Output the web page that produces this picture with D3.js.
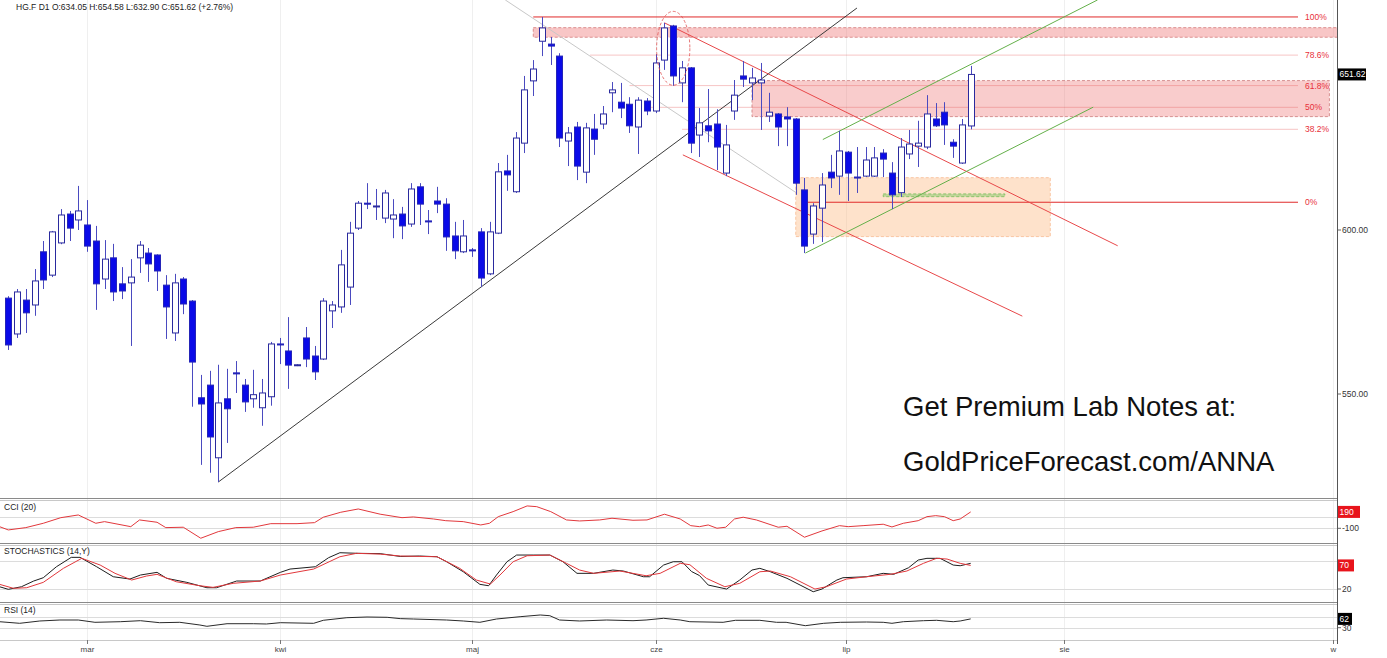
<!DOCTYPE html>
<html lang="pl">
<head>
  <meta charset="UTF-8" />
  <title>HG.F D1</title>
  <script src="https://cdn.jsdelivr.net/npm/d3@7"></script>
  <style>
    body { margin: 0; background: #fff; }
    svg { display: block; font-family: "Liberation Sans", Arial, sans-serif; }
    .wick { stroke: #4a4ac0; stroke-width: 1; }
    .up { fill: #fff; stroke: #2a2a9e; stroke-width: 1; }
    .down { fill: #0a0ae8; stroke: #2424b8; stroke-width: 1; }
    .sep1 { stroke: #8a8a8a; }
    .sep2 { stroke: #c8c8c8; }
    .lbl { font-size: 8.5px; fill: #333; }
    .fib { font-size: 8.5px; fill: #e8303a; }
  </style>
</head>
<body>
  <svg id="chart" width="1387" height="658"></svg>
  <script>
    // daily candles: [open, high, low, close]
    const candles = [
      [578.7, 579.3, 563.0, 564.5], [567.8, 581.5, 566.6, 580.6], [578.1, 581.5, 568.1, 574.2],
      [576.6, 587.7, 573.3, 584.0], [593.1, 596.5, 581.5, 584.3], [585.8, 599.7, 585.2, 599.4],
      [595.9, 606.7, 595.5, 604.8], [605.1, 606.1, 596.5, 600.6], [603.2, 614.2, 600.0, 606.1],
      [601.6, 609.6, 593.1, 594.9], [596.5, 601.3, 575.1, 583.1], [584.6, 596.8, 581.5, 590.8],
      [591.2, 595.6, 577.8, 580.6], [583.1, 588.3, 578.4, 580.9], [583.4, 590.8, 564.2, 585.2],
      [591.2, 596.5, 586.5, 595.2], [592.7, 594.3, 583.7, 589.3], [592.1, 592.3, 580.9, 587.1],
      [582.7, 585.8, 566.3, 576.0], [568.1, 586.2, 565.7, 583.4], [584.6, 585.2, 573.8, 576.9],
      [577.8, 578.1, 546.3, 559.4], [548.9, 555.6, 529.7, 547.1], [552.6, 556.8, 527.5, 537.6],
      [531.7, 558.6, 524.9, 547.4], [548.6, 557.4, 535.9, 545.7], [556.2, 559.7, 550.3, 555.9],
      [552.6, 554.4, 544.8, 547.7], [548.6, 557.1, 546.0, 549.8], [546.0, 554.4, 540.8, 550.3],
      [549.2, 565.4, 546.6, 564.8], [564.8, 566.6, 558.8, 564.5], [562.7, 572.9, 551.5, 558.5],
      [558.5, 558.8, 558.2, 558.6], [566.6, 569.9, 557.9, 560.3], [561.2, 564.2, 554.1, 556.5],
      [560.3, 578.7, 560.0, 577.8], [574.8, 577.8, 569.6, 576.6], [576.0, 593.7, 574.2, 589.0],
      [582.1, 602.6, 576.6, 599.0], [600.6, 609.3, 600.0, 608.6], [608.6, 615.1, 606.7, 608.3],
      [607.4, 613.2, 603.2, 607.7], [603.8, 612.9, 602.2, 611.9], [603.5, 609.9, 597.4, 604.8],
      [605.1, 607.4, 597.1, 601.3], [601.9, 615.1, 601.0, 613.2], [613.9, 615.1, 601.6, 608.3],
      [602.9, 606.4, 598.7, 602.6], [609.3, 613.9, 605.4, 608.3], [608.3, 610.2, 593.4, 597.8],
      [598.1, 602.6, 590.8, 593.4], [593.1, 603.2, 592.7, 598.1], [593.7, 594.3, 591.5, 593.4],
      [599.4, 600.6, 582.1, 584.9], [586.2, 602.6, 585.8, 599.4], [599.0, 621.7, 598.7, 618.8],
      [619.1, 624.4, 612.6, 617.8], [612.3, 632.0, 611.9, 630.0], [628.3, 651.1, 625.0, 646.3],
      [649.4, 656.6, 644.2, 653.5], [663.2, 671.8, 658.0, 667.9], [662.2, 664.7, 654.9, 661.5],
      [658.0, 659.0, 627.0, 630.0], [629.0, 633.7, 620.7, 631.7], [633.7, 635.4, 616.1, 620.7],
      [618.7, 635.1, 615.1, 633.4], [633.0, 638.1, 624.4, 629.6], [634.7, 640.8, 633.0, 638.1],
      [645.3, 649.0, 638.7, 646.3], [642.1, 648.7, 636.7, 640.1], [641.4, 643.8, 631.7, 634.1],
      [633.7, 643.8, 624.7, 642.8], [642.5, 643.5, 637.7, 639.1], [639.1, 658.7, 638.4, 655.6],
      [656.6, 669.7, 653.2, 667.9], [668.6, 669.0, 647.7, 651.1], [648.7, 656.3, 642.1, 653.9],
      [653.9, 654.2, 625.0, 628.3], [631.0, 640.1, 623.7, 635.1], [634.1, 646.6, 628.6, 632.4],
      [634.7, 639.7, 619.4, 627.0], [618.4, 634.4, 617.4, 627.7], [639.1, 649.7, 636.1, 644.5],
      [651.1, 656.3, 647.3, 650.0], [648.7, 653.9, 642.8, 650.4], [648.7, 655.6, 632.7, 649.7],
      [637.4, 645.3, 635.4, 638.7], [638.1, 638.4, 627.3, 633.7], [637.1, 640.4, 627.3, 636.4],
      [636.4, 636.7, 611.3, 615.1], [612.9, 616.8, 592.7, 594.9], [598.7, 608.6, 595.6, 607.7],
      [607.0, 618.4, 596.2, 614.5], [618.7, 624.4, 613.5, 616.8], [617.4, 632.4, 611.3, 625.7],
      [625.3, 625.7, 609.3, 618.4], [617.1, 627.0, 611.9, 616.8], [617.4, 627.0, 617.1, 622.7],
      [617.4, 627.0, 617.1, 623.4], [625.0, 626.3, 617.1, 623.0], [618.4, 622.0, 606.7, 611.3],
      [612.0, 630.0, 610.6, 627.0], [624.7, 632.7, 623.0, 628.0], [627.3, 635.8, 620.4, 628.3],
      [627.0, 644.5, 626.3, 638.1], [636.4, 641.8, 633.7, 634.1], [638.7, 642.1, 627.7, 634.4],
      [628.6, 629.6, 623.4, 627.3], [621.7, 636.4, 621.4, 634.4], [634.05, 654.58, 632.90, 651.62]
    ];

    // month ticks (candle index where the month starts)
    const monthLabels = ["mar", "kwi", "maj", "cze", "lip", "sie", "w"];
    const monthAt = [9, 31, 53, 74, 95.7, 120.7, 151.4];
    const priceTicks = [550, 600];

    // indicators: [candle index, value]
    const cci = [[-1,-71],[0,-129],[2,-88],[4,-11],[6,88],[8,136],[10,-11],[11,18],[14,-71],[15,48],[17,7],[18,-88],
      [20,-81],[22,-276],[24,-159],[26,-88],[28,-81],[30,-18],[33,-18],[35,0],[36,96],[38,184],[40,242],[42.5,150],
      [45,88],[46.3,101],[48.6,65],[50,35],[52,18],[54,-41],[55,-11],[56,106],[57.7,195],[59.3,296],[60.4,283],
      [62,195],[63.8,48],[65.3,30],[67.6,48],[69,78],[71.4,42],[73,48],[75,149],[76.8,65],[78,-53],[79,-71],[80,-41],
      [81,-99],[82,-81],[83,65],[84,96],[85.5,48],[88,-81],[89,-64],[91,-258],[93,-147],[95,-53],[96,-71],[97.7,-53],
      [100,-28],[101,-76],[102.3,-11],[104,35],[105,106],[106,124],[107,106],[108,35],[108.8,65],[110,190]];
    const stochK = [[-1,24.8],[0,19.3],[1.5,24.8],[2.9,36.9],[4,43.9],[5.5,67.2],[7.2,87.1],[8.2,87.1],[10.1,67.2],
      [12,46],[13.9,41.1],[15.1,49.6],[17,55.3],[18.1,42.6],[20.4,34.1],[22.7,22.7],[23.8,22.7],[26.1,36.9],[28.8,36.9],
      [31.1,55.3],[32.2,62.3],[35.1,67.2],[36.6,86.3],[37.9,96.9],[40,95.6],[42.5,95],[44.8,89],[47,89.9],[49,88.4],
      [50.1,77.8],[52,56.6],[53.9,29.9],[54.9,26.9],[55.8,49.6],[57,77.8],[58.1,92],[60,92],[61.9,92],[63.4,77.8],
      [65,53.2],[66.9,53.2],[69.1,60.2],[70.3,58.1],[72.6,46],[73.3,46],[74.9,70.8],[76,77.8],[77,77.8],[78.1,57],
      [79,48.5],[80,28.4],[82.1,19.9],[83.6,39],[85,60.2],[85.9,63.8],[87.1,56.6],[89,42.6],[90.5,28.4],[92,14.2],
      [93,19.9],[94.7,39],[95.4,43.9],[98.1,46],[100,53.2],[101.2,51.1],[102.9,65.1],[104,81.4],[105,85],[106.5,85],
      [108,70.8],[108.8,69.3],[110,74.4]];
    const stochD = [[-1,29.9],[0.6,21.4],[2.1,22.7],[4,34.1],[6.3,63.8],[8.4,85],[10.5,70.8],[12.2,53.2],[14.1,39],
      [15.8,47.5],[17,51.1],[19.2,35.4],[21.9,26.9],[23.4,23.5],[25.7,32],[28.8,36.9],[31.1,49.6],[34.9,62.3],[37.9,88.4],
      [39.8,95.6],[42.5,94],[44.8,89.9],[49,88.4],[51.6,63.8],[53.5,39],[55.1,30.5],[56.2,49.6],[57.7,77.8],[59.3,90.5],
      [61.9,92],[63.8,74.4],[65.3,60.2],[66.9,53.2],[69.9,58.1],[72.9,48.1],[74.5,53.2],[76.8,74.4],[77.9,71.5],
      [79.8,42.6],[81.9,24.8],[83.6,32],[85.9,56.6],[87.1,58.1],[89.4,46],[92.2,19.9],[93.5,24.8],[95.8,41.1],[98.1,46],
      [100.8,51.1],[102.7,58.1],[104.6,74.4],[106.1,85],[107.3,83.5],[108.8,74.4],[110,70]];
    const rsi = [[-1,51.8],[1.3,46],[3.6,54.4],[5.9,58],[8,58],[9.9,49.6],[12.8,51.8],[15.1,55.5],[17.3,48.2],[19.6,49.6],
      [21.9,39.8],[22.7,35.1],[25,44.5],[28,44.5],[29.5,43.5],[31.1,48.2],[34.9,46],[36,56.9],[38.7,66.4],[41,68.9],
      [43.3,67.8],[44.8,63],[46.3,61.6],[50.1,58],[52,54.4],[53.9,49.6],[55.8,61.6],[58.5,70],[60.8,76.2],[61.9,73.6],
      [63,58],[65.3,54.4],[68.4,58],[71.4,55.5],[72.9,58],[74.9,64.2],[76.8,58],[77.9,51.8],[81.7,49.6],[83.1,56.9],
      [85.9,56.9],[87.8,49.6],[88.9,49.6],[91.1,37.3],[93.2,46],[95.1,49.6],[98.1,50.7],[100,49.6],[101,46],[102.3,51.8],
      [104.6,55.5],[106.1,56.9],[108,51.8],[108.8,54.4],[110,62]];

    // drawings: [candle index, price]
    const trendUp = [[24, 524.9], [97, 675.0]];
    const greyLine = [[56.8, 677.9], [90.1, 611.9]];
    const redUpper = [[75, 669.7], [126.8, 595.0]];
    const redLower = [[77.1, 624.4], [115.9, 573.2]];
    const greenUpper = [[93.1, 629.5], [124.5, 677.9]];
    const greenLower = [[91.1, 592.7], [124, 640.4]];
    const fibHigh = 671.8, fibLow = 608.9;
    const fibLevels = [1, 0.786, 0.618, 0.5, 0.382, 0];
    const fibNames = ["100%", "78.6%", "61.8%", "50%", "38.2%", "0%"];
    const fibStart = [60, 66.5, 71, 73, 77, 91];
    const topZone = { from: 60, to: 152, lo: 664.6, hi: 668.0 };
    const midZone = { from: 85, to: 151, lo: 637.2, hi: 649.5 };
    const orangeBox = { from: 90, to: 119.1, lo: 597.9, hi: 616.9 };
    const greenStrip = { from: 100, to: 113.9, lo: 610.7, hi: 611.6 };
    const circled = { from: 74.1, to: 77.9, lo: 647.9, hi: 673.8 };

    const header = "HG.F D1 O:634.05 H:654.58 L:632.90 C:651.62 (+2.76%)";

    const axisX = 1337;
    const svg = d3.select("#chart");
    const x = d3.scaleLinear().domain([0, 110]).range([8.3, 970.7]);
    const y = d3.scaleLog().domain([550, 600]).range([394, 230]);
    const yCci = d3.scaleLinear().domain([-100, 100]).range([528.3, 517]);
    const yStoch = d3.scaleLinear().domain([20, 80]).range([589, 560.7]);
    const yRsi = d3.scaleLinear().domain([30, 70]).range([627.7, 616.7]);

    const defs = svg.append("defs");
    const clip = (id, y0, y1) => defs.append("clipPath").attr("id", id)
      .append("rect").attr("x", 0).attr("y", y0).attr("width", axisX).attr("height", y1 - y0);
    clip("cMain", 0, 497); clip("cCci", 501, 543); clip("cSto", 546, 602); clip("cRsi", 605, 640);

    // vertical month grid
    svg.append("g").selectAll("line").data(monthAt).join("line")
      .attr("x1", d => Math.round(x(d)) + 0.5).attr("x2", d => Math.round(x(d)) + 0.5)
      .attr("y1", 0).attr("y2", 640).attr("stroke", "#efefef");

    const main = svg.append("g").attr("clip-path", "url(#cMain)");

    const zone = (z, fill, stroke) => main.append("rect")
      .attr("x", x(z.from)).attr("width", x(z.to) - x(z.from))
      .attr("y", y(z.hi)).attr("height", y(z.lo) - y(z.hi))
      .attr("fill", fill).attr("stroke", stroke).attr("stroke-dasharray", "3,2");
    zone(topZone, "rgba(238,120,120,0.42)", "rgba(200,90,90,0.6)");
    zone(midZone, "rgba(238,120,120,0.38)", "rgba(190,90,90,0.6)");
    zone(orangeBox, "rgba(252,190,140,0.45)", "rgba(245,170,120,0.6)");
    zone(greenStrip, "rgba(150,205,120,0.6)", "rgba(120,190,90,0.8)");

    // fibonacci lines
    fibLevels.forEach((lv, i) => {
      const p = fibLow + (fibHigh - fibLow) * lv;
      const strong = lv === 1 || lv === 0;
      main.append("line")
        .attr("x1", x(fibStart[i])).attr("x2", 1298)
        .attr("y1", y(p)).attr("y2", y(p))
        .attr("stroke", strong ? "#e02a2a" : "rgba(230,90,90,0.45)")
        .attr("stroke-width", strong ? 1 : 0.8);
      svg.append("text").attr("class", "fib")
        .attr("x", 1305).attr("y", y(p) + 3).text(fibNames[i]);
    });

    const seg = (pts, color, w) => main.append("line")
      .attr("x1", x(pts[0][0])).attr("y1", y(pts[0][1]))
      .attr("x2", x(pts[1][0])).attr("y2", y(pts[1][1]))
      .attr("stroke", color).attr("stroke-width", w);
    seg(greyLine, "#c8c8c8", 1);
    seg(trendUp, "#3a3a3a", 1);
    seg(redUpper, "#e8484a", 1);
    seg(redLower, "#e8484a", 1);
    seg(greenUpper, "#64b04a", 1);
    seg(greenLower, "#64b04a", 1);

    // candles
    const cg = main.append("g");
    cg.selectAll("line").data(candles).join("line").attr("class", "wick")
      .attr("x1", (d, i) => Math.round(x(i)) + 0.5).attr("x2", (d, i) => Math.round(x(i)) + 0.5)
      .attr("y1", d => y(d[1])).attr("y2", d => y(d[2]));
    cg.selectAll("rect").data(candles).join("rect")
      .attr("class", d => d[3] >= d[0] ? "up" : "down")
      .attr("x", (d, i) => Math.round(x(i)) - 2.5)
      .attr("width", 6)
      .attr("y", d => y(Math.max(d[0], d[3])))
      .attr("height", d => Math.max(1, y(Math.min(d[0], d[3])) - y(Math.max(d[0], d[3]))));

    main.append("ellipse")
      .attr("cx", (x(circled.from) + x(circled.to)) / 2)
      .attr("cy", (y(circled.hi) + y(circled.lo)) / 2)
      .attr("rx", (x(circled.to) - x(circled.from)) / 2)
      .attr("ry", (y(circled.lo) - y(circled.hi)) / 2)
      .attr("fill", "none").attr("stroke", "#e05050").attr("stroke-width", 0.8)
      .attr("stroke-dasharray", "3,2");

    svg.append("text").attr("x", 16).attr("y", 10).attr("font-size", 8.5).attr("fill", "#222")
      .text(header);

    svg.append("text").attr("x", 903).attr("y", 416).attr("font-size", 27.5).attr("fill", "#111")
      .text("Get Premium Lab Notes at:");
    svg.append("text").attr("x", 903).attr("y", 471).attr("font-size", 27.5).attr("fill", "#111")
      .text("GoldPriceForecast.com/ANNA");

    // indicator panels
    const ind = (clipId, yS, series, color) => svg.append("path")
      .attr("clip-path", `url(#${clipId})`)
      .attr("d", d3.line().x(d => x(d[0])).y(d => yS(d[1]))(series))
      .attr("fill", "none").attr("stroke", color).attr("stroke-width", 1);

    const hgrid = (vals, yS) => vals.forEach(v => svg.append("line")
      .attr("x1", 0).attr("x2", axisX).attr("y1", Math.round(yS(v)) + 0.5).attr("y2", Math.round(yS(v)) + 0.5)
      .attr("stroke", "#dcdcdc"));
    hgrid([100, -100], yCci);
    hgrid([80, 20], yStoch);
    hgrid([70, 30], yRsi);

    ind("cCci", yCci, cci, "#e2383c");
    ind("cSto", yStoch, stochK, "#1e1e1e");
    ind("cSto", yStoch, stochD, "#e2383c");
    ind("cRsi", yRsi, rsi, "#2a2a2a");

    [[498.5, 500.5], [543.5, 545.5], [602.5, 604.5]].forEach(([a, b]) => {
      svg.append("line").attr("class", "sep1").attr("x1", 0).attr("x2", axisX).attr("y1", a).attr("y2", a);
      svg.append("line").attr("class", "sep2").attr("x1", 0).attr("x2", axisX).attr("y1", b).attr("y2", b);
    });
    svg.append("line").attr("x1", 0).attr("x2", axisX).attr("y1", 640.5).attr("y2", 640.5).attr("stroke", "#c8c8c8");

    [["CCI (20)", 510], ["STOCHASTICS (14,Y)", 554], ["RSI (14)", 613]].forEach(([t, yy]) =>
      svg.append("text").attr("x", 4).attr("y", yy).attr("font-size", 8.5).attr("fill", "#222").text(t));

    // right axis
    svg.append("line").attr("x1", axisX + 0.5).attr("x2", axisX + 0.5).attr("y1", 0).attr("y2", 644)
      .attr("stroke", "#555");
    const rTick = (yy, t) => {
      svg.append("line").attr("x1", axisX + 1).attr("x2", axisX + 4).attr("y1", yy).attr("y2", yy).attr("stroke", "#666");
      svg.append("text").attr("class", "lbl").attr("x", axisX + 5).attr("y", yy + 3).text(t);
    };
    priceTicks.forEach(p => rTick(y(p), p.toFixed(2)));
    rTick(yCci(-100), "-100");
    rTick(yStoch(20), "20");
    rTick(yRsi(30), "30");

    const badge = (yy, t, bg, w) => {
      svg.append("rect").attr("x", axisX + 1).attr("y", yy - 6).attr("width", w).attr("height", 12).attr("fill", bg);
      svg.append("text").attr("x", axisX + 2.5).attr("y", yy + 3).attr("font-size", 8.5).attr("fill", "#fff").text(t);
    };
    const last = candles[candles.length - 1];
    badge(y(last[3]), last[3].toFixed(2), "#000", 28);
    badge(yCci(cci[cci.length - 1][1]), String(cci[cci.length - 1][1]), "#e8141c", 22);
    badge(yStoch(stochD[stochD.length - 1][1]), String(stochD[stochD.length - 1][1]), "#e8141c", 16);
    badge(yRsi(rsi[rsi.length - 1][1]), String(rsi[rsi.length - 1][1]), "#000", 14);

    // month axis
    const mg = svg.append("g");
    monthAt.forEach((m, i) => {
      const xx = Math.round(x(m)) + 0.5;
      mg.append("line").attr("x1", xx).attr("x2", xx).attr("y1", 640).attr("y2", 644).attr("stroke", "#777");
      mg.append("text").attr("x", xx).attr("y", 652).attr("text-anchor", "middle")
        .attr("font-size", 8).attr("fill", "#444").text(monthLabels[i]);
    });
  </script>
</body>
</html>
